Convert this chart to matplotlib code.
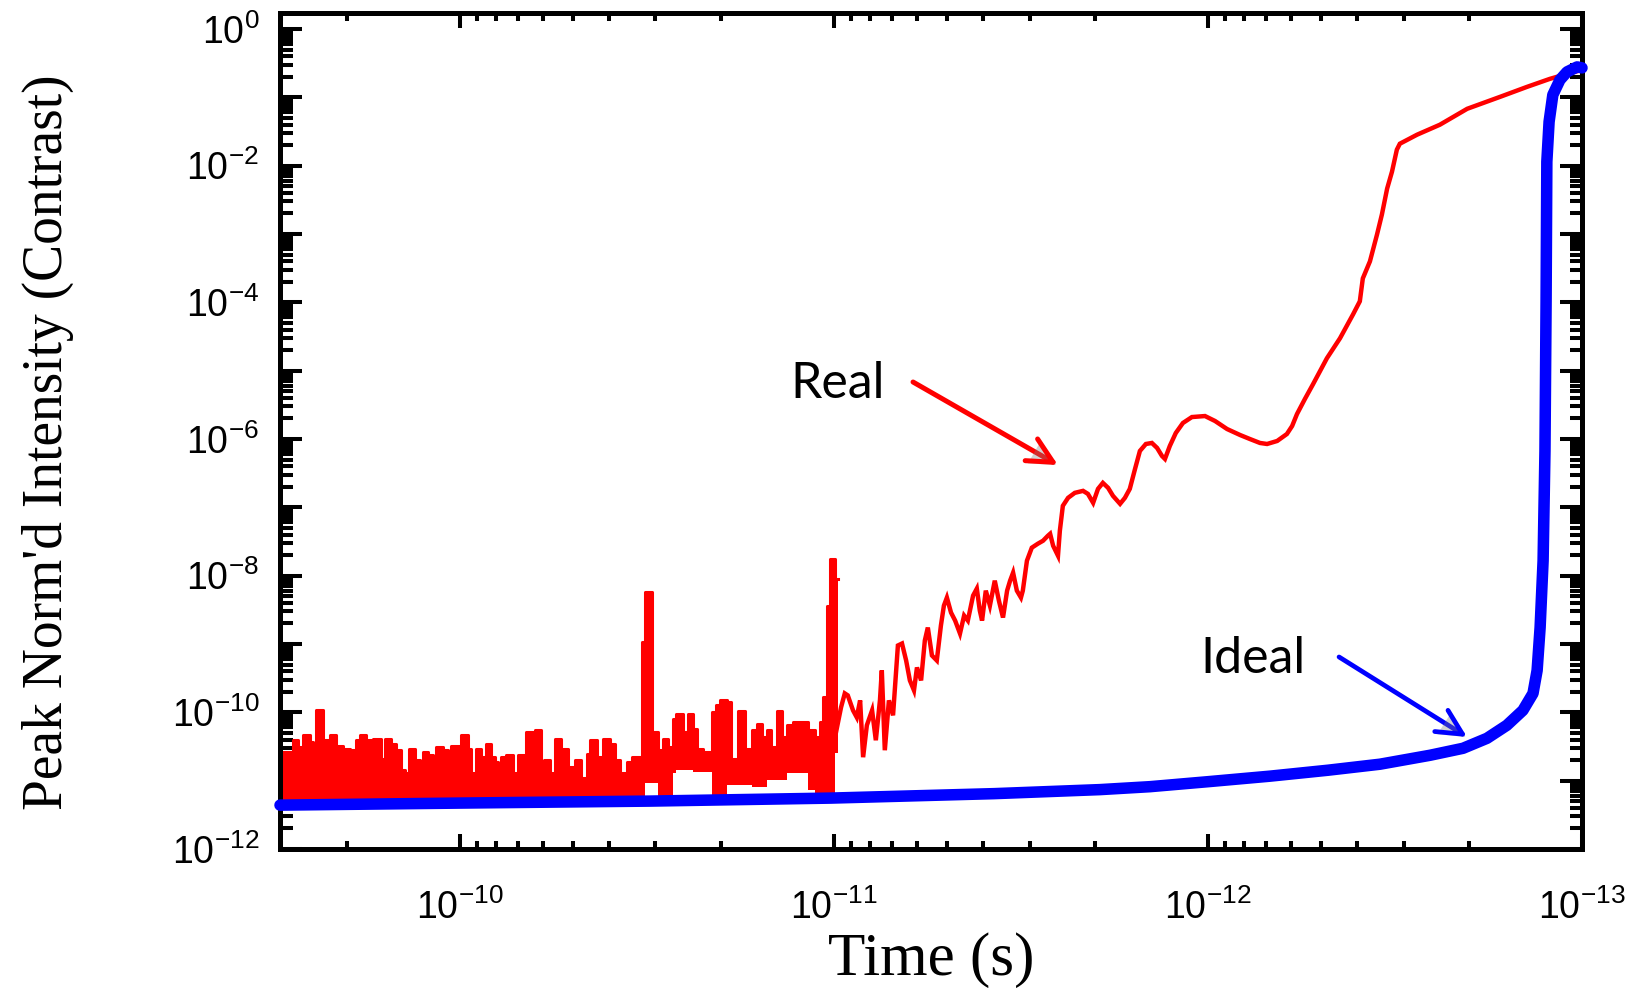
import numpy as np
import matplotlib
matplotlib.use('Agg')
import matplotlib.pyplot as plt
from matplotlib.ticker import LogLocator, FuncFormatter, NullFormatter
import matplotlib.patheffects as pe

plt.rcParams['font.family'] = 'Liberation Sans'
plt.rcParams['mathtext.fontset'] = 'custom'
plt.rcParams['mathtext.rm'] = 'Liberation Sans'
plt.rcParams['mathtext.it'] = 'Liberation Sans:italic'
plt.rcParams['mathtext.bf'] = 'Liberation Sans:bold'

# ---------------- data (log10 of time [s], log10 of peak-normalised intensity) -------------
# Ideal curve
ideal_t_exp = [-9.519, -10.0, -10.508, -10.992, -11.428, -11.711, -11.845, -12.0, -12.166,
               -12.321, -12.460, -12.594, -12.682, -12.746, -12.799, -12.842, -12.869,
               -12.880, -12.888, -12.896, -12.901, -12.904, -12.906, -12.912, -12.922,
               -12.941, -12.960, -12.987, -13.0]
ideal_i_exp = [-11.358, -11.328, -11.299, -11.255, -11.190, -11.131, -11.088, -11.015,
               -10.934, -10.847, -10.759, -10.628, -10.526, -10.380, -10.190, -9.971, -9.723,
               -9.387, -8.759, -7.781, -6.175, -3.985, -1.942, -1.358, -0.964, -0.745,
               -0.628, -0.555, -0.569]

# Real curve, noise-floor part (dense noise: step envelope)
noise_t_exp = [
    -9.519, -9.553, -9.567, -9.580, -9.598, -9.607, -9.616, -9.634, -9.652, -9.669,
    -9.687, -9.705, -9.723, -9.732, -9.749, -9.767, -9.790, -9.799, -9.816, -9.830,
    -9.843, -9.852, -9.865, -9.879, -9.892, -9.901, -9.914, -9.928, -9.937, -9.955,
    -9.968, -9.977, -10.003, -10.021, -10.030, -10.044, -10.057, -10.070, -10.084, -10.093,
    -10.102, -10.110, -10.124, -10.142, -10.155, -10.177, -10.200, -10.217, -10.226, -10.240,
    -10.253, -10.271,
    -10.289, -10.307, -10.325, -10.339, -10.348, -10.366, -10.383, -10.401, -10.414, -10.428,
    -10.446, -10.459, -10.486, -10.495, -10.513, -10.530, -10.544, -10.557, -10.570, -10.579,
    -10.597, -10.610, -10.624, -10.633, -10.651, -10.673, -10.686, -10.695, -10.713, -10.726,
    -10.744, -10.762, -10.780, -10.793, -10.807, -10.820, -10.833, -10.847, -10.860, -10.874,
    -10.891, -10.914, -10.931, -10.949, -10.963, -10.971, -10.981, -10.989, -11.003, -11.012]
noise_upper_exp = [
    -10.58, -10.409, -10.507, -10.336, -10.434, -10.555, -9.971, -10.409, -10.336, -10.496,
    -10.530, -10.555, -10.409, -10.336, -10.409, -10.384, -10.676, -10.384, -10.457, -10.555,
    -10.847, -10.895, -10.530, -10.701, -10.798, -10.580, -10.628, -10.774, -10.507, -10.555,
    -10.653, -10.496, -10.336, -10.530, -10.895, -10.530, -10.653, -10.457, -10.653, -10.726,
    -10.774, -10.653, -10.618, -10.895, -10.618, -10.288, -10.263, -10.895, -10.691, -10.895,
    -10.384, -10.530,
    -10.798, -10.701, -10.968, -10.603, -10.409, -10.653, -10.384, -10.457, -10.701, -10.895,
    -10.726, -10.653, -8.974, -8.244, -10.288, -10.555, -10.384, -10.507, -10.092, -10.019,
    -10.288, -10.019, -10.238, -10.530, -10.580, -9.996, -9.898, -9.825, -9.850, -10.676,
    -9.981, -10.530, -10.263, -10.165, -10.360, -10.263, -10.507, -9.981, -10.360, -10.190,
    -10.142, -10.142, -10.263, -10.360, -10.142, -9.777, -8.438, -7.756, -8.048, -8.048]
noise_lower_exp = [-11.30] * 52 + [
    -11.30, -11.30, -11.30, -11.30, -11.30, -11.30, -11.30, -11.30, -11.30, -11.30,
    -11.30, -11.30, -11.30, -11.04, -11.04, -11.30, -11.30, -11.30, -10.895, -10.85,
    -10.85, -10.85, -10.87, -10.87, -10.87, -11.30, -11.30, -11.30, -11.07, -11.07,
    -11.07, -11.07, -11.09, -11.09, -11.09, -10.99, -10.99, -10.99, -10.99, -10.895,
    -10.895, -10.895, -11.14, -11.30, -11.30, -11.30, -11.30, -11.30, -10.6, -10.6]

# Real curve, rising part
real_t_exp = [
    -11.005, -11.019, -11.029, -11.037, -11.051, -11.061, -11.070, -11.078, -11.088, -11.102,
    -11.112, -11.123, -11.128, -11.136, -11.147, -11.158, -11.171, -11.182, -11.193, -11.203,
    -11.214, -11.222, -11.233, -11.243, -11.251, -11.262, -11.275, -11.286, -11.294, -11.302,
    -11.313, -11.324, -11.337, -11.348, -11.358, -11.372, -11.382, -11.390, -11.396, -11.406,
    -11.417, -11.430, -11.441, -11.452, -11.463, -11.471, -11.479, -11.489, -11.500, -11.505,
    -11.516, -11.529, -11.545, -11.559, -11.572, -11.578, -11.586, -11.599, -11.604, -11.612,
    -11.626, -11.644, -11.666, -11.679, -11.693, -11.706, -11.719, -11.733, -11.746, -11.765,
    -11.778, -11.791, -11.805, -11.818, -11.834, -11.850, -11.864, -11.877, -11.885, -11.898,
    -11.914, -11.933, -11.957, -11.992, -12.019, -12.051, -12.086, -12.112, -12.139, -12.158,
    -12.185, -12.211, -12.225, -12.238, -12.259, -12.281, -12.318, -12.353, -12.388, -12.406,
    -12.414, -12.433, -12.452, -12.465, -12.479, -12.492, -12.505, -12.513, -12.559, -12.620,
    -12.693, -12.781, -12.853, -12.914, -12.960, -13.0]
real_i_exp = [
    -10.307, -9.927, -9.723, -9.752, -9.971, -10.073, -9.825, -10.657, -10.190, -9.971,
    -10.409, -9.825, -9.387, -10.555, -9.825, -10.044, -9.022, -8.993, -9.241, -9.533,
    -9.679, -9.343, -9.533, -8.949, -8.759, -9.168, -9.241, -8.730, -8.438, -8.321,
    -8.540, -8.657, -8.847, -8.584, -8.657, -8.292, -8.190, -8.511, -8.657, -8.219,
    -8.438, -8.073, -8.365, -8.613, -8.219, -8.073, -7.956, -8.219, -8.321, -8.219,
    -7.781, -7.591, -7.533, -7.489, -7.416, -7.387, -7.562, -7.708, -7.343, -6.978,
    -6.861, -6.788, -6.759, -6.803, -6.934, -6.730, -6.642, -6.715, -6.832, -6.949,
    -6.861, -6.730, -6.438, -6.175, -6.073, -6.058, -6.131, -6.248, -6.292, -6.102,
    -5.912, -5.766, -5.679, -5.664, -5.737, -5.854, -5.942, -6.000, -6.058, -6.073,
    -6.029, -5.927, -5.810, -5.635, -5.416, -5.197, -4.818, -4.526, -4.175, -3.985,
    -3.650, -3.401, -3.007, -2.715, -2.336, -2.088, -1.766, -1.679, -1.547, -1.401,
    -1.168, -0.993, -0.847, -0.730, -0.657, -0.599]

x_tick_exps = [-10, -11, -12, -13]
x_label = "Time (s)"
y_label = "Peak Norm'd Intensity (Contrast)"
label_real = "Real"
label_ideal = "Ideal"

# ---------------- figure ----------------
fig = plt.figure(figsize=(16.4, 9.98), dpi=100)
ax = fig.add_axes([280 / 1640, 1 - 849 / 998, 1302 / 1640, 836 / 998])
ax.set_xscale('log')
ax.set_yscale('log')

p = lambda a: 10.0 ** np.asarray(a, dtype=float)

ax.fill_between(p(noise_t_exp), p(noise_lower_exp), p(noise_upper_exp), step='post',
                color='#ff0000', linewidth=0, zorder=2)
ax.plot(p(noise_t_exp), p(noise_upper_exp), color='#ff0000', lw=2.2, zorder=2,
        drawstyle='steps-post')
ax.plot(p(real_t_exp), p(real_i_exp), color='#ff0000', lw=3.2, zorder=2,
        solid_joinstyle='miter')
ax.plot(p(ideal_t_exp), p(ideal_i_exp), color='#0000ff', lw=8.3, zorder=3,
        solid_capstyle='round', solid_joinstyle='round', clip_on=False)

ax.set_xlim(10 ** -9.519, 1e-13)
ax.set_ylim(1e-12, 10 ** 0.234)

ax.xaxis.set_major_locator(LogLocator(base=10, numticks=30))
ax.xaxis.set_minor_locator(LogLocator(base=10, subs=np.arange(2, 10), numticks=30))
ax.yaxis.set_major_locator(LogLocator(base=10, numticks=30))
ax.yaxis.set_minor_locator(LogLocator(base=10, subs=np.arange(2, 10), numticks=30))


def xfmt(v, pos):
    e = int(round(np.log10(v)))
    return r'$10^{%d}$' % e if e in x_tick_exps else ''


def yfmt(v, pos):
    e = int(round(np.log10(v)))
    return r'$10^{%d}$' % e if e % 2 == 0 else ''


ax.xaxis.set_major_formatter(FuncFormatter(xfmt))
ax.yaxis.set_major_formatter(FuncFormatter(yfmt))
ax.xaxis.set_minor_formatter(NullFormatter())
ax.yaxis.set_minor_formatter(NullFormatter())

for s in ax.spines.values():
    s.set_linewidth(3.6)
ax.tick_params(which='both', direction='in', top=True, right=True, width=2.9,
               labelsize=27, colors='black')
ax.tick_params(axis='x', which='major', length=11, pad=29)
ax.tick_params(axis='x', which='minor', length=5.5)
ax.tick_params(axis='y', which='major', length=16, pad=15)
ax.tick_params(axis='y', which='minor', length=9)

ax.set_xlabel(x_label, family='Liberation Serif', fontsize=44)
ax.xaxis.set_label_coords(0.5, -0.133)
ax.xaxis.label.set_va('center')
ax.set_ylabel(y_label, family='Liberation Serif', fontsize=40)
ax.yaxis.set_label_coords(-0.178, 0.487)
ax.yaxis.label.set_va('center')

# annotations
shadow = [pe.SimplePatchShadow(offset=(2, -2), shadow_rgbFace='gray', alpha=0.35), pe.Normal()]
ax.text(0.3917, 0.5395, label_real, transform=ax.transAxes, family='Lato',
        fontsize=36, ha='left', va='baseline', color='black')
ax.text(0.7066, 0.2105, label_ideal, transform=ax.transAxes, family='Lato',
        fontsize=36, ha='left', va='baseline', color='black')
ax.annotate('', xy=(0.5975, 0.4593), xytext=(0.4862, 0.5586), xycoords='axes fraction',
            textcoords='axes fraction',
            arrowprops=dict(arrowstyle='->,head_length=0.9,head_width=0.45', color='#ff0000',
                            lw=3.6, mutation_scale=20, shrinkA=0, shrinkB=0,
                            path_effects=shadow))
ax.annotate('', xy=(0.9117, 0.1340), xytext=(0.8134, 0.2297), xycoords='axes fraction',
            textcoords='axes fraction',
            arrowprops=dict(arrowstyle='->,head_length=0.9,head_width=0.45', color='#0000ff',
                            lw=3.4, mutation_scale=20, shrinkA=0, shrinkB=0,
                            path_effects=shadow))

fig.savefig('out.png', dpi=100)
